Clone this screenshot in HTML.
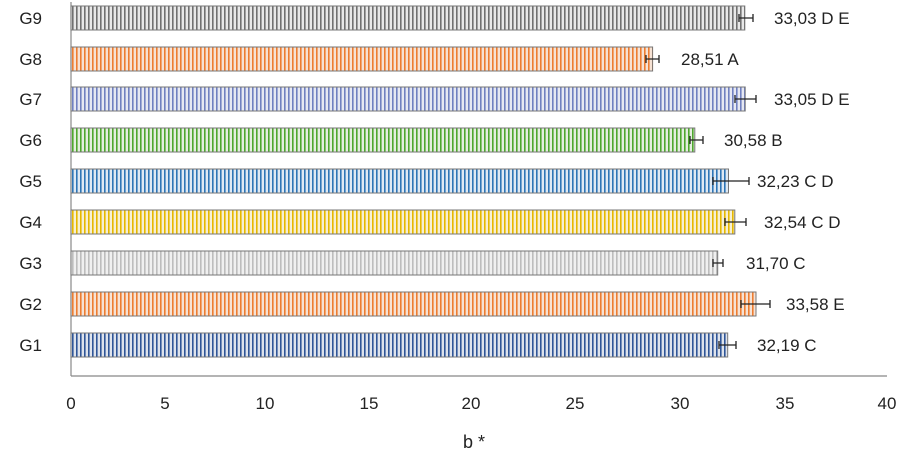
<!DOCTYPE html>
<html><head><style>
body{margin:0;background:#fff;width:902px;height:462px;overflow:hidden;font-family:"Liberation Sans",sans-serif;}
</style></head><body>
<svg width="902" height="462" xmlns="http://www.w3.org/2000/svg" font-family="Liberation Sans, sans-serif" font-size="17" fill="#222">
<defs>
<pattern id="p0" width="4" height="10" patternUnits="userSpaceOnUse"><rect width="4" height="10" fill="#e8e8e8"/><rect width="1.6" height="10" fill="#707070"/></pattern>
<pattern id="p1" width="4" height="10" patternUnits="userSpaceOnUse"><rect width="4" height="10" fill="#f6e2d4"/><rect width="1.6" height="10" fill="#ed7d31"/></pattern>
<pattern id="p2" width="4" height="10" patternUnits="userSpaceOnUse"><rect width="4" height="10" fill="#e6e8f2"/><rect width="1.6" height="10" fill="#7080c0"/></pattern>
<pattern id="p3" width="4" height="10" patternUnits="userSpaceOnUse"><rect width="4" height="10" fill="#e4eedf"/><rect width="1.6" height="10" fill="#4ea72e"/></pattern>
<pattern id="p4" width="4" height="10" patternUnits="userSpaceOnUse"><rect width="4" height="10" fill="#dfe9f3"/><rect width="1.6" height="10" fill="#2e75b6"/></pattern>
<pattern id="p5" width="4" height="10" patternUnits="userSpaceOnUse"><rect width="4" height="10" fill="#f6efd4"/><rect width="1.6" height="10" fill="#e6b800"/></pattern>
<pattern id="p6" width="4" height="10" patternUnits="userSpaceOnUse"><rect width="4" height="10" fill="#f0f0f0"/><rect width="1.6" height="10" fill="#bdbdbd"/></pattern>
<pattern id="p7" width="4" height="10" patternUnits="userSpaceOnUse"><rect width="4" height="10" fill="#dee3ec"/><rect width="1.6" height="10" fill="#2f5597"/></pattern>
</defs>
<line x1="71" y1="2" x2="71" y2="376" stroke="#888" stroke-width="1.2"/>
<line x1="71" y1="376" x2="887" y2="376" stroke="#888" stroke-width="1.2"/>
<g id="bars" stroke="#777" stroke-width="1">
<rect x="71" y="6" width="673.8" height="24" fill="url(#p0)"/>
<rect x="71" y="47" width="581.6" height="24" fill="url(#p1)"/>
<rect x="71" y="87" width="674.2" height="24" fill="url(#p2)"/>
<rect x="71" y="128" width="623.8" height="24" fill="url(#p3)"/>
<rect x="71" y="169" width="657.5" height="24" fill="url(#p4)"/>
<rect x="71" y="210" width="663.8" height="24" fill="url(#p5)"/>
<rect x="71" y="251" width="646.7" height="24" fill="url(#p6)"/>
<rect x="71" y="292" width="685.0" height="24" fill="url(#p1)"/>
<rect x="71" y="333" width="656.7" height="24" fill="url(#p7)"/>
</g>
<g stroke="#222" stroke-width="1.3">
<path d="M739 18H753M739 14v8M753 14v8"/>
<path d="M646 59H659M646 55v8M659 55v8"/>
<path d="M735 99H756M735 95v8M756 95v8"/>
<path d="M690 140H703M690 136v8M703 136v8"/>
<path d="M713 181H749M713 177v8M749 177v8"/>
<path d="M725 222H746M725 218v8M746 218v8"/>
<path d="M713 263H723M713 259v8M723 259v8"/>
<path d="M741 304H770M741 300v8M770 300v8"/>
<path d="M719 345H736M719 341v8M736 341v8"/>
</g>
<g>
<text x="774" y="24">33,03 D E</text>
<text x="681" y="65">28,51 A</text>
<text x="774" y="105">33,05 D E</text>
<text x="724" y="146">30,58 B</text>
<text x="757" y="187">32,23 C D</text>
<text x="764" y="228">32,54 C D</text>
<text x="746" y="269">31,70 C</text>
<text x="786" y="310">33,58 E</text>
<text x="757" y="351">32,19 C</text>
</g>
<g text-anchor="end">
<text x="42" y="24">G9</text><text x="42" y="65">G8</text><text x="42" y="105">G7</text>
<text x="42" y="146">G6</text><text x="42" y="187">G5</text><text x="42" y="228">G4</text>
<text x="42" y="269">G3</text><text x="42" y="310">G2</text><text x="42" y="351">G1</text>
</g>
<g text-anchor="middle">
<text x="71" y="409">0</text><text x="165" y="409">5</text><text x="265" y="409">10</text>
<text x="369" y="409">15</text><text x="471" y="409">20</text><text x="575" y="409">25</text>
<text x="680" y="409">30</text><text x="785" y="409">35</text><text x="887" y="409">40</text>
<text x="474" y="448" font-size="18">b *</text>
</g>
</svg>
</body></html>
